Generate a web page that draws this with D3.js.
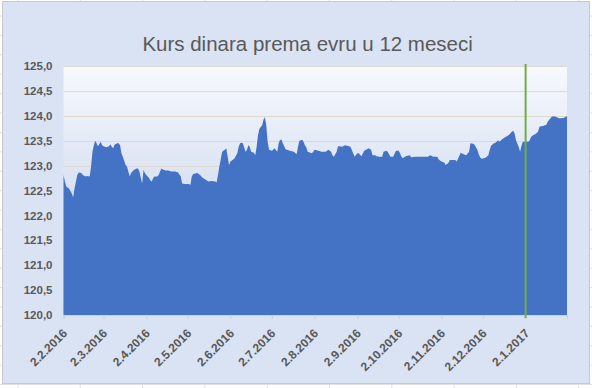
<!DOCTYPE html>
<html>
<head>
<meta charset="utf-8">
<script src="https://cdn.jsdelivr.net/npm/d3@7"></script>
<style>
	body { margin: 0; background: #ffffff; }
	svg { display: block; }
</style>
</head>
<body>
<svg id="chart" width="592" height="388"></svg>
<script>
var title = "Kurs dinara prema evru u 12 meseci";
var startDate = "2.2.2016";
// day number from 2.2.2016 and exchange rate on that day
var days = [0, 1, 2, 4, 6, 7, 8, 10, 11, 13, 14, 16, 17, 19, 20, 21, 22, 23, 24, 25,
	27, 28, 29, 30, 31, 33, 34, 35, 36, 37, 39, 40, 41, 42, 43, 45, 46, 47, 48, 49,
	51, 53, 54, 55, 57, 58, 59, 60, 62, 63, 64, 65, 66, 68, 69, 70, 71, 72, 74, 76,
	78, 81, 83, 85, 86, 88, 91, 92, 93, 94, 97, 99, 100, 101, 104, 105, 107, 110, 111, 112,
	113, 115, 116, 117, 118, 119, 120, 121, 123, 124, 126, 127, 128, 129, 130, 132, 133, 134, 135, 136,
	138, 139, 140, 141, 142, 144, 145, 146, 147, 148, 149, 151, 152, 153, 155, 156, 157, 158, 159, 161,
	162, 164, 167, 169, 170, 171, 173, 174, 175, 176, 177, 179, 180, 181, 182, 185, 187, 190, 192, 194,
	195, 196, 198, 199, 200, 202, 204, 207, 208, 210, 211, 213, 214, 216, 218, 220, 221, 223, 224, 226,
	227, 229, 231, 232, 234, 235, 237, 239, 241, 243, 244, 245, 246, 248, 251, 252, 255, 258, 262, 264,
	266, 268, 271, 272, 274, 276, 277, 279, 280, 282, 284, 285, 287, 288, 290, 292, 294, 295, 297, 298,
	300, 301, 302, 303, 306, 308, 309, 310, 312, 313, 314, 315, 316, 318, 320, 322, 323, 325, 326, 327,
	328, 330, 331, 332, 333, 335, 337, 338, 339, 341, 342, 344, 345, 348, 350, 351, 353, 354, 355, 357,
	359, 361, 363, 364, 365];
var rates = [122.81, 122.68, 122.58, 122.54, 122.44, 122.36, 122.54, 122.81, 122.86, 122.85, 122.81, 122.78, 122.79, 122.78, 122.98, 123.28, 123.41, 123.50, 123.45, 123.39,
	123.48, 123.41, 123.39, 123.38, 123.37, 123.39, 123.43, 123.38, 123.35, 123.42, 123.45, 123.45, 123.41, 123.25, 123.18, 123.01, 122.98, 122.88, 122.78, 122.85,
	122.91, 122.94, 122.94, 122.88, 122.64, 122.91, 122.85, 122.81, 122.75, 122.70, 122.68, 122.75, 122.78, 122.78, 122.81, 122.88, 122.94, 122.92, 122.90, 122.90,
	122.88, 122.88, 122.86, 122.78, 122.64, 122.63, 122.63, 122.61, 122.78, 122.83, 122.85, 122.81, 122.78, 122.75, 122.70, 122.68, 122.69, 122.68, 122.66, 122.81,
	122.98, 123.28, 123.30, 123.32, 123.35, 123.18, 123.01, 123.08, 123.12, 123.15, 123.25, 123.38, 123.45, 123.46, 123.45, 123.28, 123.32, 123.41, 123.38, 123.28,
	123.26, 123.21, 123.38, 123.61, 123.74, 123.81, 123.92, 123.97, 123.81, 123.48, 123.32, 123.30, 123.32, 123.35, 123.28, 123.45, 123.52, 123.52, 123.45, 123.33,
	123.32, 123.30, 123.28, 123.23, 123.38, 123.50, 123.52, 123.48, 123.41, 123.37, 123.28, 123.26, 123.25, 123.28, 123.32, 123.30, 123.28, 123.28, 123.32, 123.28,
	123.21, 123.18, 123.28, 123.39, 123.39, 123.38, 123.41, 123.39, 123.38, 123.25, 123.18, 123.25, 123.25, 123.19, 123.30, 123.33, 123.35, 123.32, 123.21, 123.21,
	123.19, 123.18, 123.18, 123.28, 123.30, 123.28, 123.18, 123.18, 123.30, 123.30, 123.25, 123.18, 123.15, 123.19, 123.21, 123.17, 123.18, 123.18, 123.18, 123.18,
	123.21, 123.18, 123.18, 123.12, 123.08, 123.06, 123.01, 123.05, 123.11, 123.11, 123.11, 123.08, 123.20, 123.26, 123.23, 123.21, 123.28, 123.45, 123.44, 123.42,
	123.32, 123.23, 123.17, 123.14, 123.16, 123.21, 123.32, 123.40, 123.45, 123.46, 123.48, 123.51, 123.48, 123.53, 123.57, 123.60, 123.62, 123.68, 123.70, 123.65,
	123.51, 123.38, 123.28, 123.40, 123.48, 123.48, 123.48, 123.51, 123.58, 123.62, 123.63, 123.68, 123.78, 123.80, 123.82, 123.88, 123.95, 123.98, 123.99, 123.98,
	123.95, 123.95, 123.96, 123.98, 123.99];
var xTickLabels = ["2.2.2016", "2.3.2016", "2.4.2016", "2.5.2016", "2.6.2016", "2.7.2016",
	"2.8.2016", "2.9.2016", "2.10.2016", "2.11.2016", "2.12.2016", "2.1.2017"];
var endDate = "1.2.2017";
var markerDate = "2.1.2017";
var yTicks = [120, 120.5, 121, 121.5, 122, 122.5, 123, 123.5, 124, 124.5, 125];

var parseDate = d3.timeParse("%-d.%-m.%Y");
var fmtDate = d3.timeFormat("%-d.%-m.%Y");
var start = parseDate(startDate);
var data = days.map(function(d, i) {
	return { date: d3.timeDay.offset(start, d), rate: rates[i] };
});

var svg = d3.select("#chart");
var W = 592, H = 388;

// spreadsheet cells behind the chart
var cells = svg.append("g");
for (var cx = 18; cx < W; cx += 62.3) {
	cells.append("line").attr("x1", cx).attr("x2", cx).attr("y1", 0).attr("y2", H)
		.attr("stroke", "#e1e1e1");
}
for (var cy = 16; cy < H; cy += 19.4) {
	cells.append("line").attr("x1", 0).attr("x2", W).attr("y1", cy).attr("y2", cy)
		.attr("stroke", "#e1e1e1");
}

// chart box
svg.append("rect")
	.attr("x", 2.5).attr("y", 1.5)
	.attr("width", 587).attr("height", 382)
	.attr("fill", "#dae3f3")
	.attr("stroke", "#c9c9c9");

var margin = { top: 66, right: 25, bottom: 73, left: 63.5 };
var width = W - margin.left - margin.right;
var height = H - margin.top - margin.bottom;

var defs = svg.append("defs");
var grad = defs.append("linearGradient")
	.attr("id", "plotbg")
	.attr("x1", 0).attr("y1", 0).attr("x2", 0).attr("y2", 1);
grad.append("stop").attr("offset", "0%").attr("stop-color", "#f7f9fd");
grad.append("stop").attr("offset", "100%").attr("stop-color", "#b9cae6");

var G = svg.append("g")
	.attr("transform", "translate(" + margin.left + "," + margin.top + ")");

var xScale = d3.scaleTime()
	.domain([start, parseDate(endDate)])
	.range([0, width]);

var yScale = d3.scaleLinear()
	.domain([120, 125])
	.range([height, 0]);

G.append("rect")
	.attr("width", width)
	.attr("height", height)
	.attr("fill", "url(#plotbg)");

// gridlines
G.append("g")
	.selectAll("line")
	.data(yTicks.slice(1))
	.join("line")
	.attr("x1", 0).attr("x2", width)
	.attr("y1", function(d) { return Math.round(yScale(d)) + 0.5; })
	.attr("y2", function(d) { return Math.round(yScale(d)) + 0.5; })
	.attr("stroke", "#ddd8d0");

var area = d3.area()
	.x(function(d) { return xScale(d.date); })
	.y0(yScale(120))
	.y1(function(d) { return yScale(d.rate); });

G.append("path")
	.datum(data)
	.attr("d", area)
	.attr("fill", "#4472c4");

// x axis
var xAxis = d3.axisBottom(xScale)
	.tickValues(xTickLabels.map(parseDate))
	.tickFormat(fmtDate)
	.tickSize(4)
	.tickPadding(0);

var gx = G.append("g")
	.attr("transform", "translate(0," + height + ")")
	.call(xAxis);
gx.select(".domain").attr("stroke", "#d0d0d0");
gx.selectAll(".tick line").attr("stroke", "#d0d0d0");
gx.selectAll(".tick text")
	.attr("fill", "#595959")
	.style("font-family", "'Liberation Sans', Arial, sans-serif")
	.style("font-size", "12px")
	.style("font-weight", "bold")
	.style("text-anchor", "end")
	.attr("dy", null)
	.attr("y", null)
	.attr("transform", "translate(4,19) rotate(-45)");

// y axis
var yAxis = d3.axisLeft(yScale)
	.tickValues(yTicks)
	.tickFormat(function(d) { return d3.format(".1f")(d).replace(".", ","); })
	.tickSize(0)
	.tickPadding(11);

var gy = G.append("g").call(yAxis);
gy.select(".domain").remove();
gy.selectAll(".tick text")
	.attr("fill", "#595959")
	.style("font-family", "'Liberation Sans', Arial, sans-serif")
	.style("font-size", "11.5px")
	.style("font-weight", "bold");

// marker line
var mx = xScale(parseDate(markerDate));
G.append("line")
	.attr("x1", mx).attr("x2", mx)
	.attr("y1", -2).attr("y2", height + 3)
	.attr("stroke", "#70ad47")
	.attr("stroke-width", 2);

svg.append("text")
	.attr("x", 307.6)
	.attr("y", 51)
	.attr("text-anchor", "middle")
	.attr("fill", "#595959")
	.style("font-family", "'Liberation Sans', Arial, sans-serif")
	.style("font-size", "20.5px")
	.text(title);
</script>
</body>
</html>
